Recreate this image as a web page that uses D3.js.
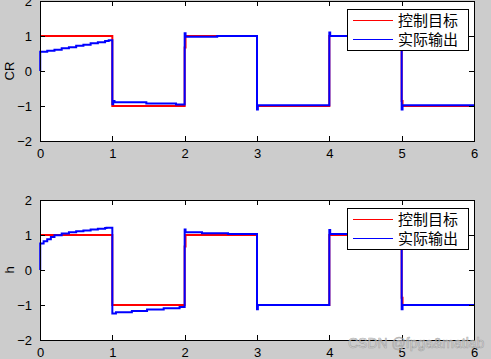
<!DOCTYPE html>
<meta charset="utf-8">
<head>
<style>
body { margin: 0; background: #cccccc; }
svg { display: block; }
.tick text { font-family: "Liberation Sans", Arial, sans-serif; font-size: 13px; fill: #000; }
.axis path, .axis line { fill: none; stroke: #000; shape-rendering: crispEdges; }
</style>
</head>
<body>
<div id="fig"></div>
<script src="https://d3js.org/d3.v7.min.js"></script>
<script>

// ---- data ----
var xTicks = [0, 1, 2, 3, 4, 5, 6];
var yTicks = [-2, -1, 0, 1, 2];
var legendNames = ["控制目标", "实际输出"];

// CR subplot, [t, value], held until next t
var crTarget = [[0,1],[1,-1],[2,0.67],[2.012,1],[3,-1],[4,1],[5,-0.86],[5.012,-1],[6,-1]];
var crOutput = [[0,0],[0.003,0.55],[0.1,0.58],[0.2,0.61],[0.3,0.65],[0.4,0.68],[0.5,0.72],
  [0.6,0.75],[0.7,0.79],[0.8,0.82],[0.9,0.86],[0.95,0.88],[1,-0.95],[1.012,-0.86],[1.03,-0.89],
  [1.47,-0.93],[1.88,-0.96],[2,1.08],[2.012,0.98],[2.45,1.0],[3,-1.1],[3.012,-0.98],
  [4,1.1],[4.012,1.0],[5,-1.1],[5.012,-0.98],[6,-0.98]];

// h subplot
var hTarget = [[0,1],[1,-1],[2,0.67],[2.012,1],[3,-1],[4,1],[5,-0.79],[5.012,-1],[6,-1]];
var hOutput = [[0,0],[0.003,0.76],[0.05,0.82],[0.1,0.88],[0.15,0.94],[0.2,0.99],[0.3,1.04],
  [0.4,1.08],[0.5,1.11],[0.6,1.13],[0.7,1.16],[0.8,1.18],[0.9,1.2],[0.92,1.21],[1,-1.24],
  [1.05,-1.21],[1.27,-1.17],[1.48,-1.13],[1.71,-1.09],[1.93,-1.06],[2,1.16],[2.012,1.08],
  [2.24,1.05],[2.6,1.03],[3,-1.12],[3.012,-1.0],[4,1.14],[4.012,1.03],[5,-1.12],[5.012,-1.0],[6,-1.0]];

var W = 491, H = 359;

var svg = d3.select("#fig").append("svg")
    .attr("width", W)
    .attr("height", H);

svg.append("rect").attr("width", W).attr("height", H).attr("fill", "#cccccc");

function subplot(top, label, target, output) {
  var x = d3.scaleLinear().domain([0, 6]).range([40, 474]);
  var y = d3.scaleLinear().domain([-2, 2]).range([top + 140, top]);

  var g = svg.append("g");
  g.append("rect")
    .attr("x", x(0)).attr("y", y(2))
    .attr("width", x(6) - x(0)).attr("height", y(-2) - y(2))
    .attr("fill", "#fff");

  var line = d3.line()
    .x(function(d) { return x(d[0]); })
    .y(function(d) { return y(d[1]); })
    .curve(d3.curveStepAfter);

  g.append("path").datum(target)
    .attr("d", line).attr("fill", "none")
    .attr("stroke", "#ff0000").attr("stroke-width", 2);
  g.append("path").datum(output)
    .attr("d", line).attr("fill", "none")
    .attr("stroke", "#0000ff").attr("stroke-width", 2);

  // matlab style box with inward ticks
  g.append("g").attr("class", "axis")
    .attr("transform", "translate(0," + y(-2) + ")")
    .call(d3.axisBottom(x).tickValues(xTicks).tickSizeInner(-5).tickSizeOuter(0).tickPadding(8).tickFormat(d3.format("d")));
  g.append("g").attr("class", "axis")
    .attr("transform", "translate(0," + y(2) + ")")
    .call(d3.axisTop(x).tickValues(xTicks).tickSizeInner(-5).tickSizeOuter(0).tickFormat(""));
  g.append("g").attr("class", "axis")
    .attr("transform", "translate(" + x(0) + ",0)")
    .call(d3.axisLeft(y).tickValues(yTicks).tickSizeInner(-5).tickSizeOuter(0).tickPadding(8).tickFormat(d3.format("d")));
  g.append("g").attr("class", "axis")
    .attr("transform", "translate(" + x(6) + ",0)")
    .call(d3.axisRight(y).tickValues(yTicks).tickSizeInner(-5).tickSizeOuter(0).tickFormat(""));

  g.append("text")
    .attr("transform", "translate(14," + y(0) + ") rotate(-90)")
    .attr("text-anchor", "middle")
    .style("font-family", "Liberation Sans, Arial, sans-serif")
    .style("font-size", "13px")
    .text(label);

  // legend
  var lg = g.append("g").attr("transform", "translate(347," + (top + 8) + ")");
  lg.append("rect")
    .attr("x", 0.5).attr("y", 0.5).attr("width", 121).attr("height", 41)
    .attr("fill", "#fff").attr("stroke", "#000");
  var colors = ["#ff0000", "#0000ff"];
  legendNames.forEach(function(name, i) {
    var cy = 11 + i * 19;
    lg.append("line")
      .attr("x1", 6).attr("x2", 46).attr("y1", cy + 0.5).attr("y2", cy + 0.5)
      .attr("stroke", colors[i]).attr("stroke-width", 1);
    lg.append("text")
      .attr("x", 51).attr("y", cy + 5.5)
      .style("font-family", "Noto Sans CJK SC, sans-serif")
      .style("font-size", "15px")
      .text(name);
  });
}

subplot(1, "CR", crTarget, crOutput);
subplot(200, "h", hTarget, hOutput);

// watermark
svg.append("text")
  .attr("x", 348).attr("y", 348)
  .style("font-family", "Liberation Sans, Arial, sans-serif")
  .style("font-size", "14px")
  .attr("fill", "#e6e6e6").attr("fill-opacity", 0.7)
  .attr("stroke", "#8a8a8a").attr("stroke-width", 0.6).attr("stroke-opacity", 0.7)
  .text("CSDN @fpga&matlab");

</script>
</body>
